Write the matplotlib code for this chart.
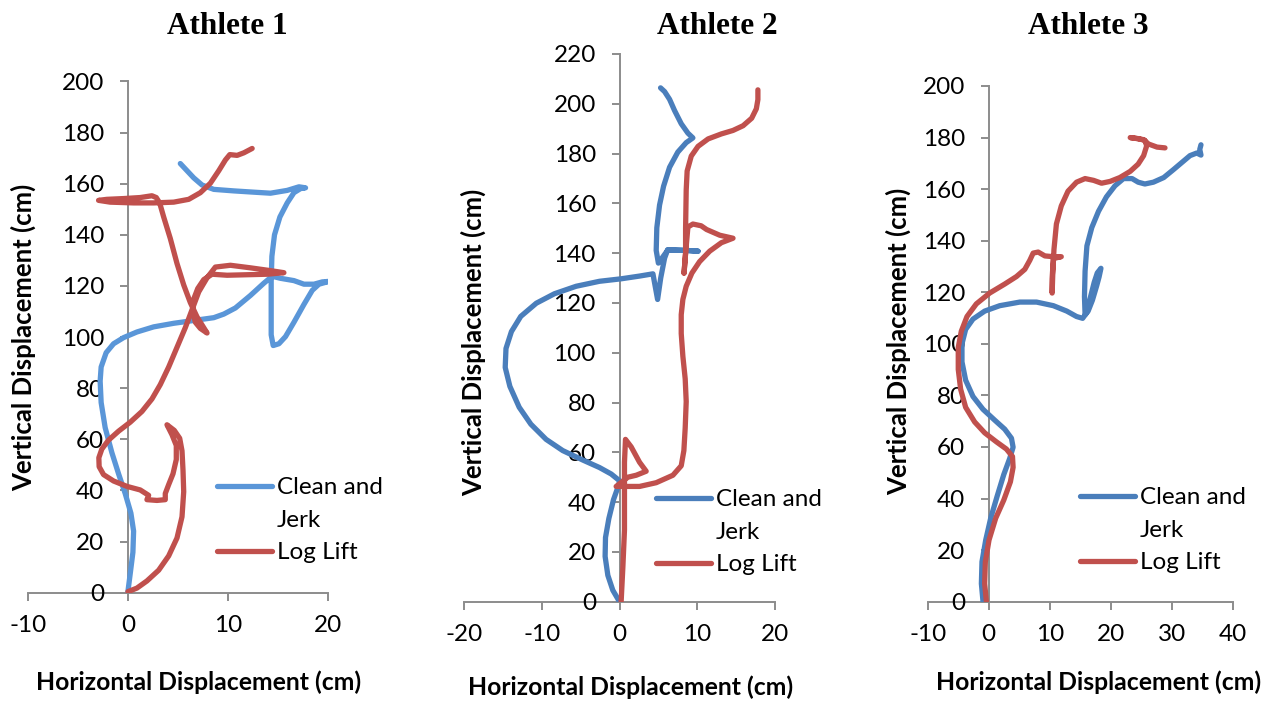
import matplotlib
matplotlib.use("Agg")
import matplotlib.pyplot as plt
from matplotlib.lines import Line2D

plt.rcParams["axes.unicode_minus"] = False
W, H = 1280, 702

# ---------------- data ----------------
titles = ["Athlete 1", "Athlete 2", "Athlete 3"]
legend_labels = ["Clean and", "Jerk", "Log Lift"]

cj1_x = [0, 0.23, 0.5, 0.57, 0.3, -0.27, -0.93, -1.6, -2.27, -2.67, -2.77, -2.67, -2.17, -1.43, -0.43, 0.9,
         2.57, 4.57, 6.57, 8.57, 9.57, 10.73, 12.23, 13.57, 14.4, 15.23, 16.57, 17.57, 18.57, 19.4, 20.07,
         19.07, 18.4, 17.57, 16.57, 15.73, 15.07, 14.5, 14.3, 14.3, 14.3, 14.37, 14.63, 15.17, 15.9, 16.57,
         17.23, 17.73, 17.07, 15.9, 14.23, 12.57, 10.57, 8.57, 7.4, 6.57, 5.9, 5.23]
cj1_y = [0.4, 7.4, 15.8, 24.1, 31.1, 38.8, 46.5, 54.8, 64.6, 74.4, 82.8, 88.3, 93.9, 97.4, 99.8, 102,
         104, 105.4, 106.5, 107.6, 109, 111.4, 116.3, 121.1, 123.8, 123, 122.1, 120.7, 120.7, 121.6, 121.8,
         120.7, 118.3, 112.8, 105.8, 100.2, 97.4, 96.7, 100.9, 110.7, 121.8, 131.6, 140, 147, 152.5, 156.5,
         158.1, 158.4, 158.8, 157.4, 156.3, 156.7, 157.2, 157.8, 159.5, 162.3, 165.1, 167.9]

ll1_x = [0, 0.9, 1.9, 3.07, 4.07, 4.9, 5.4, 5.57, 5.5, 5.4, 5.17, 4.63, 3.9, 4.4, 4.83, 4.83, 4.5, 4.07,
         3.73, 3.73, 2.9, 1.9, 2.07, 1.23, -0.1, -1.43, -2.43, -2.87, -2.9, -2.6, -1.93, -0.93, 0.23, 1.4,
         2.4, 3.23, 4.07, 4.9, 5.73, 6.4, 7.07, 7.9, 8.73, 10.23, 12.23, 14.23, 15.57, 13.9, 11.9, 9.9, 8.4,
         7.57, 6.97, 6.57, 6.47, 6.73, 7.23, 7.9, 6.9, 6.23, 5.57, 4.9, 4.23, 3.57, 3.17, 2.83, 2.4, 1.23,
         -0.43, -2.1, -2.93, -1.77, 0.57, 2.57, 4.57, 6.07, 7.23, 8.23, 9.07, 9.73, 10.17, 10.9, 11.57, 12.4]
ll1_y = [0.4, 1.8, 4.6, 8.8, 14.4, 21.4, 29.7, 39.5, 47.9, 55.5, 60.4, 63.5, 65.7, 61.8, 57.6, 52.1, 46.5,
         42.3, 38.8, 36.4, 36.1, 36.4, 38.1, 40.2, 41.6, 43.7, 46.2, 49.3, 52.8, 56.2, 59.7, 63.2, 66.7, 70.9,
         75.8, 81.4, 88.3, 96, 103.7, 110.7, 117.7, 123.2, 127.4, 128.1, 127.1, 126, 125.2, 124.6, 124.4, 124.2,
         124.6, 122.5, 119, 114.9, 110, 105.8, 103.4, 101.6, 107.9, 113.5, 120.4, 128.8, 138.6, 147, 152.5,
         154.6, 155.3, 154.6, 154.2, 153.9, 153.5, 152.8, 152.5, 152.5, 152.8, 153.9, 156.5, 160.2, 165.1,
         169.3, 171.4, 171.1, 172.1, 173.8]

cj2_x = [0, -0.86, -1.5, -1.85, -1.8, -1.37, -0.77, -0.09, 0, -1.07, -2.58, -4.72, -7.3, -9.44, -11.4, -12.9,
         -14.1, -14.7, -14.6, -13.9, -12.7, -10.7, -8.37, -5.58, -2.58, 0.21, 2.58, 4.3, 4.9, 5.3, 5.8, 6.2,
         8.6, 10.1, 8.6, 6.2, 5.0, 4.72, 4.8, 5.15, 5.67, 6.44, 7.5, 8.58, 9.44, 8.8, 7.94, 7.08, 6.44, 5.8, 5.28]
cj2_y = [0, 4.6, 10.6, 18.2, 25.8, 33.4, 41, 47, 48.6, 51.3, 53.9, 56.9, 60.7, 65.2, 71.3, 78.1,
         86.5, 94.1, 101.7, 108.5, 114.6, 119.9, 123.7, 126.7, 128.7, 129.7, 130.8, 131.7, 121.4, 130, 138, 141.4,
         141.1, 140.8, 141.1, 141.2, 136, 141.1, 150.2, 159.3, 166.9, 174.5, 180.6, 184.4, 186.3, 188.2, 192, 197.3,
         201.8, 204.9, 206.4]

ll2_x = [0.21, 0.43, 0.64, 0.64, 0.64, 0.77, 1.5, 2.58, 3.43, 2.15, 1.07, -0.43, 2.58, 4.72, 6.87, 7.94,
         8.28, 8.45, 8.58, 8.45, 8.15, 7.94, 7.94, 8.15, 8.58, 9.31, 10.3, 11.6, 13.1, 14.6, 12.9, 11.2, 10.5,
         9.44, 8.8, 8.5, 8.3, 8.5, 8.5, 8.58, 8.7, 9.23, 10.1, 11.4, 13.1, 14.6, 15.9, 17.0, 17.6, 17.8, 17.8]
ll2_y = [0, 13.7, 28.8, 44, 56, 65.2, 62.2, 56, 52.4, 50.8, 50, 46.3, 46.3, 47.8, 50.8, 54.6,
         60.7, 69.8, 80.4, 89.5, 98.6, 107.7, 115.3, 121.4, 126.7, 132, 136.6, 140.8, 144.2, 146, 147.2, 149.5, 151,
         151.7, 150.5, 140, 132, 140, 150, 165.4, 173, 179, 182.9, 185.9, 187.9, 189.3, 191.2, 194.2, 198, 201.7, 205.6]

cj3_x = [-0.93, -1.2, -1.1, -0.49, 0.33, 1.37, 2.47, 3.45, 4.0, 3.73, 2.63, 0.99, -0.93, -2.58, -3.78, -4.38,
         -4.38, -3.78, -2.58, -0.66, 1.81, 5.1, 7.84, 10.6, 12.8, 14.4, 15.4, 16.05, 16.7, 17.3, 17.8, 18.4, 18.1,
         17.7, 17.0, 16.3, 15.8, 15.7, 15.8, 16.1, 16.9, 18.0, 19.3, 20.7, 22.1, 23.5, 24.5, 25.6, 27.0, 28.7,
         30.3, 31.7, 33.0, 34.1, 34.8, 34.6, 34.8]
cj3_y = [0, 7, 15.5, 23.9, 32.4, 40.8, 49.3, 55.6, 59.9, 63.4, 66.9, 70.4, 74.6, 79.6, 85.9, 93,
         100, 105.6, 109.6, 112.7, 114.8, 116.2, 116.2, 114.8, 112.7, 110.6, 109.9, 112, 118.3, 123.9, 127.5, 129.3,
         126, 122.5, 116.9, 112.7, 111.3, 118.3, 128.2, 138, 145.1, 151.4, 157, 161.3, 164.1, 164.1, 162.7, 162,
         162.7, 164.5, 167.6, 170.4, 173, 174, 173.2, 175.4, 177.2]

ll3_x = [-0.38, -0.66, -0.55, 0.05, 1.15, 2.47, 3.56, 4.0, 3.9, 2.9, 1.26, -0.66, -2.3, -3.78, -4.6, -4.99,
         -4.99, -4.49, -3.56, -2.03, 0.16, 2.63, 4.55, 5.92, 6.74, 7.29, 8.11, 9.21, 10.6, 11.9, 10.6, 10.4,
         10.4, 10.5, 10.7, 11.1, 11.9, 13.0, 14.4, 15.8, 17.2, 18.5, 19.9, 21.5, 23.2, 24.5, 25.4, 25.9, 25.6,
         24.5, 23.2, 25.4, 26.2, 27.6, 28.9]
ll3_y = [0, 7, 15.5, 23.9, 32.4, 39.4, 46.5, 52.1, 56.3, 59.2, 62, 65.5, 69.7, 75.4, 82.4, 90.1,
         98.6, 104.9, 110.6, 115.5, 119.7, 123.2, 126.1, 128.9, 132.4, 135.2, 135.6, 134.1, 133.8, 133.8, 133.1,
         125.4, 119.7, 126.8, 136.6, 146.5, 153.5, 159.2, 162.7, 164.1, 163.4, 162.3, 163, 164.5, 166.9, 169.7,
         173, 176.8, 178.9, 179.6, 180, 179.2, 177.5, 176.3, 176]

x_limits = [(-10, 20), (-20, 20), (-10, 40)]
y_limits = [(0, 200), (0, 220), (0, 200)]
x_ticks = [[-10, 0, 10, 20], [-20, -10, 0, 10, 20], [-10, 0, 10, 20, 30, 40]]
y_ticks = [list(range(0, 201, 20)), list(range(0, 221, 20)), list(range(0, 201, 20))]

# ---------------- styling / layout ----------------
blue_colors = ["#5A96D8", "#4A7EBB", "#4A7EBB"]
red_color = "#C0504D"
gray = "#8C8C8C"
font = "Lato"

def fx(px):
    return px / W

def fy(py):
    return 1 - py / H

# axes pixel boxes: (left, right, y of 0, y of top)
boxes = [(27.7, 328.3, 592.7, 81.5), (464, 775, 601.7, 54), (927.7, 1232.7, 601.7, 86)]
title_pos = [(227, 27), (717, 27), (1088, 27)]
xlabel_pos = [(199, 682), (630.7, 687), (1099, 682)]
ylabel_pos = [(23, 337), (473, 342), (898, 341)]
legend_pos = [(217, 477), (656, 489), (1080, 487)]

fig = plt.figure(figsize=(W / 100, H / 100), dpi=100)
data = [(cj1_x, cj1_y, ll1_x, ll1_y), (cj2_x, cj2_y, ll2_x, ll2_y), (cj3_x, cj3_y, ll3_x, ll3_y)]

for i in range(3):
    l, r, b, t = boxes[i]
    ax = fig.add_axes([fx(l), fy(b), (r - l) / W, (b - t) / H])
    cx, cy, lx, ly = data[i]
    ax.plot(cx, cy, color=blue_colors[i], lw=3.8, solid_capstyle="round", solid_joinstyle="round", zorder=3)
    ax.plot(lx, ly, color=red_color, lw=3.8, solid_capstyle="round", solid_joinstyle="round", zorder=3)
    ax.set_xlim(*x_limits[i])
    ax.set_ylim(*y_limits[i])
    ax.set_xticks(x_ticks[i])
    ax.set_yticks(y_ticks[i])
    ax.spines["left"].set_position(("data", 0))
    ax.spines["top"].set_visible(False)
    ax.spines["right"].set_visible(False)
    for s in ("left", "bottom"):
        ax.spines[s].set_color(gray)
        ax.spines[s].set_linewidth(1.4)
        ax.spines[s].set_zorder(1)
    ax.tick_params(axis="both", direction="out", length=6, width=1.4, color=gray,
                   labelsize=17.5, labelcolor="black")
    ax.tick_params(axis="y", pad=11)
    ax.tick_params(axis="x", pad=10)
    for lab in ax.get_xticklabels() + ax.get_yticklabels():
        lab.set_fontfamily(font)
    ax.patch.set_alpha(0)

    handles = [Line2D([], [], color=blue_colors[i], lw=3.8, solid_capstyle="round"),
               Line2D([], [], color="none", lw=0),
               Line2D([], [], color=red_color, lw=3.8, solid_capstyle="round")]
    ax.legend(handles, legend_labels, loc="upper left",
              bbox_to_anchor=(fx(legend_pos[i][0]), fy(legend_pos[i][1])),
              bbox_transform=fig.transFigure, frameon=False, borderpad=0, borderaxespad=0,
              handlelength=2.25, handletextpad=0.2, labelspacing=0.48,
              prop={"family": font, "size": 17.5})

    fig.text(fx(title_pos[i][0]), fy(title_pos[i][1]), titles[i], ha="center", va="center",
             family="Liberation Serif", weight="bold", size=22.5)
    fig.text(fx(xlabel_pos[i][0]), fy(xlabel_pos[i][1]), "Horizontal Displacement (cm)", ha="center",
             va="center", family=font, weight="bold", size=17.8)
    fig.text(fx(ylabel_pos[i][0]), fy(ylabel_pos[i][1]), "Vertical Displacement (cm)", ha="center",
             va="center", rotation=90, family=font, weight="bold", size=18.5)

fig.savefig("out.png", dpi=100)
